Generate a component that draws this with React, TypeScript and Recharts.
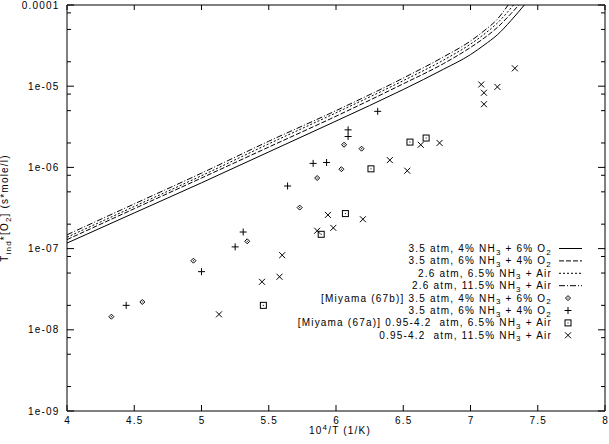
import { ComposedChart, Line, Scatter, XAxis, YAxis, Label } from "recharts";

// axes
const xTicks = [4, 4.5, 5, 5.5, 6, 6.5, 7, 7.5, 8];
const yMajorTicks = [1e-9, 1e-8, 1e-7, 1e-6, 1e-5, 1e-4];
const yMajorLabels = ["1e-09", "1e-08", "1e-07", "1e-06", "1e-05", "0.0001"];
const yMinorTicks = [
  2e-9, 5e-9, 8e-9, 2e-8, 5e-8, 8e-8, 2e-7, 5e-7, 8e-7,
  2e-6, 5e-6, 8e-6, 2e-5, 5e-5, 8e-5,
];

// model curves
const solidX = [4, 4.5, 5, 5.5, 6, 6.5, 6.8, 7, 7.1, 7.2, 7.3, 7.4];
const solidY = [1.17e-7, 2.75e-7, 6.46e-7, 1.55e-6, 3.72e-6, 9.1e-6, 1.62e-5, 2.45e-5, 3.2e-5, 4.3e-5, 6.4e-5, 1.0e-4];
const dashedX = [4, 4.5, 5, 5.5, 6, 6.5, 6.8, 7, 7.1, 7.2, 7.3, 7.36];
const dashedY = [1.29e-7, 3.1e-7, 7.4e-7, 1.78e-6, 4.27e-6, 1.07e-5, 1.9e-5, 3.0e-5, 3.9e-5, 5.3e-5, 7.8e-5, 1.0e-4];
const dottedX = [4, 4.5, 5, 5.5, 6, 6.5, 6.8, 7, 7.1, 7.2, 7.32];
const dottedY = [1.38e-7, 3.3e-7, 7.9e-7, 1.95e-6, 4.7e-6, 1.17e-5, 2.1e-5, 3.3e-5, 4.35e-5, 6.0e-5, 1.0e-4];
const dashDotX = [4, 4.5, 5, 5.5, 6, 6.5, 6.8, 7, 7.1, 7.2, 7.28];
const dashDotY = [1.48e-7, 3.55e-7, 8.5e-7, 2.1e-6, 5.0e-6, 1.26e-5, 2.3e-5, 3.6e-5, 4.8e-5, 6.7e-5, 1.0e-4];

// measurements
const miyamaBX = [4.33, 4.56, 4.94, 5.34, 5.73, 5.86, 6.04, 6.06, 6.19];
const miyamaBY = [1.45e-8, 2.2e-8, 7.1e-8, 1.23e-7, 3.2e-7, 7.4e-7, 9.5e-7, 1.9e-6, 1.7e-6];
const plusX = [4.44, 5.0, 5.25, 5.31, 5.64, 5.83, 5.93, 6.09, 6.09, 6.31];
const plusY = [2.0e-8, 5.2e-8, 1.05e-7, 1.6e-7, 5.9e-7, 1.12e-6, 1.15e-6, 2.9e-6, 2.4e-6, 4.9e-6];
const miyamaAX = [5.46, 5.89, 6.07, 6.26, 6.55, 6.67];
const miyamaAY = [2.0e-8, 1.5e-7, 2.7e-7, 9.6e-7, 2.05e-6, 2.3e-6];
const crossX = [5.13, 5.45, 5.58, 5.6, 5.86, 5.94, 5.98, 6.2, 6.4, 6.53, 6.63, 6.77, 7.08, 7.1, 7.1, 7.2, 7.33];
const crossY = [1.55e-8, 3.9e-8, 4.5e-8, 8.3e-8, 1.66e-7, 2.6e-7, 1.8e-7, 2.3e-7, 1.23e-6, 9.1e-7, 1.9e-6, 2.0e-6, 1.05e-5, 8.3e-6, 6.0e-6, 9.8e-6, 1.66e-5];

const legendLabels = [
  "3.5 atm, 4% NH_3 + 6% O_2",
  "3.5 atm, 6% NH_3 + 4% O_2",
  "2.6 atm, 6.5% NH_3 + Air",
  "2.6 atm, 11.5% NH_3 + Air",
  "[Miyama (67b)] 3.5 atm, 4% NH_3 + 6% O_2",
  "3.5 atm, 6% NH_3 + 4% O_2",
  "[Miyama (67a)] 0.95-4.2  atm, 6.5% NH_3 + Air",
  "0.95-4.2  atm, 11.5% NH_3 + Air",
];

const W = 609;
const H = 444;
const PLOT_LEFT = 67;
const PLOT_RIGHT = 605;
const PLOT_TOP = 5;
const PLOT_BOTTOM = 411;
const FONT = "'Liberation Sans', Arial, Helvetica, sans-serif";
const FS = 10;
const LS = 1.2;
const DASHES = [undefined, "5 2", "2 2", "6 2 1 2"];

const zip = (xs: number[], ys: number[]) => xs.map((x, i) => ({ x, y: ys[i] }));

function RichText({ text, sub = 3 }: { text: string; sub?: number }) {
  // "_c" marks a subscript character, "^c" a superscript
  const parts = text.split(/([_^].)/).filter((p) => p !== "");
  let shift = 0;
  return (
    <>
      {parts.map((p, i) => {
        if (p[0] === "_" || p[0] === "^") {
          const d = p[0] === "_" ? sub : -4;
          const dy = d - shift;
          shift = d;
          return (
            <tspan key={i} dy={dy} fontSize={FS - 2}>
              {p.slice(1)}
            </tspan>
          );
        }
        const dy = -shift;
        shift = 0;
        return (
          <tspan key={i} dy={dy}>
            {p}
          </tspan>
        );
      })}
    </>
  );
}

function YTick(props: any) {
  const { y, payload } = props;
  const idx = yMajorTicks.indexOf(payload.value);
  const len = idx >= 0 ? 7 : 4;
  return (
    <g>
      <line x1={PLOT_LEFT} x2={PLOT_LEFT + len} y1={y} y2={y} stroke="#000" />
      <line x1={PLOT_RIGHT - len} x2={PLOT_RIGHT} y1={y} y2={y} stroke="#000" />
      {idx >= 0 && (
        <text x={PLOT_LEFT - 7.5} y={y + 3.5} textAnchor="end" fontFamily={FONT} fontSize={FS} letterSpacing={LS} fill="#000">
          {yMajorLabels[idx]}
        </text>
      )}
    </g>
  );
}

function XTick(props: any) {
  const { x, payload } = props;
  return (
    <g>
      <line x1={x} x2={x} y1={PLOT_BOTTOM} y2={PLOT_BOTTOM - 6} stroke="#000" />
      <line x1={x} x2={x} y1={PLOT_TOP} y2={PLOT_TOP + 5} stroke="#000" />
      <text x={x + 0.6} y={PLOT_BOTTOM + 13} textAnchor="middle" fontFamily={FONT} fontSize={FS} letterSpacing={LS} fill="#000">
        {String(payload.value)}
      </text>
    </g>
  );
}

const Diamond = (p: any) => (
  <g>
    <path d={`M${p.cx - 2.5},${p.cy}L${p.cx},${p.cy - 2.5}L${p.cx + 2.5},${p.cy}L${p.cx},${p.cy + 2.5}Z`} fill="none" stroke="#000" />
    <rect x={p.cx - 0.5} y={p.cy - 0.5} width={1} height={1} fill="#000" />
  </g>
);
const Plus = (p: any) => (
  <path d={`M${p.cx - 3.5},${p.cy}H${p.cx + 3.5}M${p.cx},${p.cy - 3.5}V${p.cy + 3.5}`} stroke="#000" />
);
const Square = (p: any) => (
  <g>
    <rect x={p.cx - 3} y={p.cy - 3} width={6} height={6} fill="none" stroke="#000" />
    <rect x={p.cx - 0.5} y={p.cy - 0.5} width={1} height={1} fill="#000" />
  </g>
);
const Cross = (p: any) => (
  <path d={`M${p.cx - 3},${p.cy - 3}L${p.cx + 3},${p.cy + 3}M${p.cx - 3},${p.cy + 3}L${p.cx + 3},${p.cy - 3}`} stroke="#000" />
);
const SYMBOLS = [Diamond, Plus, Square, Cross];

function LegendBox() {
  const right = 552;
  const top = 248.5;
  const step = 12.4;
  return (
    <svg width={W} height={H} style={{ position: "absolute", left: 0, top: 0, pointerEvents: "none" }}>
      {legendLabels.map((label, i) => {
        const cy = top + i * step;
        const Sym = SYMBOLS[i - 4];
        return (
          <g key={i}>
            <text x={right} y={cy + 3.5} textAnchor="end" fontFamily={FONT} fontSize={FS} letterSpacing={LS} fill="#000" style={{ whiteSpace: "pre" }}>
              <RichText text={label} sub={2.5} />
            </text>
            {i < 4 ? (
              <line x1={559} x2={582} y1={cy} y2={cy} stroke="#000" strokeDasharray={DASHES[i]} />
            ) : (
              <Sym cx={568} cy={cy} />
            )}
          </g>
        );
      })}
    </svg>
  );
}

export default function App() {
  const yTicks = [...yMajorTicks, ...yMinorTicks].sort((a, b) => a - b);
  const curves = [zip(solidX, solidY), zip(dashedX, dashedY), zip(dottedX, dottedY), zip(dashDotX, dashDotY)];
  const points = [zip(miyamaBX, miyamaBY), zip(plusX, plusY), zip(miyamaAX, miyamaAY), zip(crossX, crossY)];

  return (
    <div style={{ position: "absolute", left: 0, top: 0, width: W, height: H, background: "#fff" }}>
      <ComposedChart width={W} height={H} margin={{ top: 4, right: 3, bottom: 0, left: 0 }}>
        <XAxis
          dataKey="x"
          type="number"
          domain={[4, 8]}
          allowDataOverflow
          ticks={xTicks}
          interval={0}
          height={H - PLOT_BOTTOM}
          stroke="#000"
          tickLine={false}
          tick={<XTick />}
        >
          <Label
            content={(p: any) => (
              <text x={p.viewBox.x + p.viewBox.width / 2 + 4} y={p.viewBox.y + 23} textAnchor="middle" fontFamily={FONT} fontSize={FS} letterSpacing={LS} fill="#000">
                <RichText text="10^4/T (1/K)" />
              </text>
            )}
          />
        </XAxis>
        <XAxis xAxisId="top" orientation="top" type="number" domain={[4, 8]} allowDataOverflow height={1} stroke="#000" tick={false} tickLine={false} />
        <YAxis
          dataKey="y"
          scale="log"
          type="number"
          domain={[1e-9, 1e-4]}
          allowDataOverflow
          ticks={yTicks}
          interval={0}
          width={PLOT_LEFT}
          stroke="#000"
          tickLine={false}
          tick={<YTick />}
        >
          <Label
            content={(p: any) => {
              const cy = p.viewBox.y + p.viewBox.height / 2;
              return (
                <text x={8} y={cy} transform={`rotate(-90 8 ${cy})`} textAnchor="middle" fontFamily={FONT} fontSize={FS} letterSpacing={LS} fill="#000">
                  <RichText text="T_i_n_d*[O_2] (s*mole/l)" />
                </text>
              );
            }}
          />
        </YAxis>
        <YAxis yAxisId="r" orientation="right" scale="log" type="number" domain={[1e-9, 1e-4]} allowDataOverflow width={1} stroke="#000" tick={false} tickLine={false} />
        {curves.map((d, i) => (
          <Line
            key={`c${i}`}
            data={d}
            dataKey="y"
            type="monotone"
            stroke="#000"
            strokeWidth={1}
            strokeDasharray={DASHES[i]}
            dot={false}
            activeDot={false}
            isAnimationActive={false}
          />
        ))}
        {points.map((d, i) => (
          <Scatter key={`s${i}`} data={d} shape={SYMBOLS[i]} isAnimationActive={false} />
        ))}
      </ComposedChart>
      <LegendBox />
    </div>
  );
}
